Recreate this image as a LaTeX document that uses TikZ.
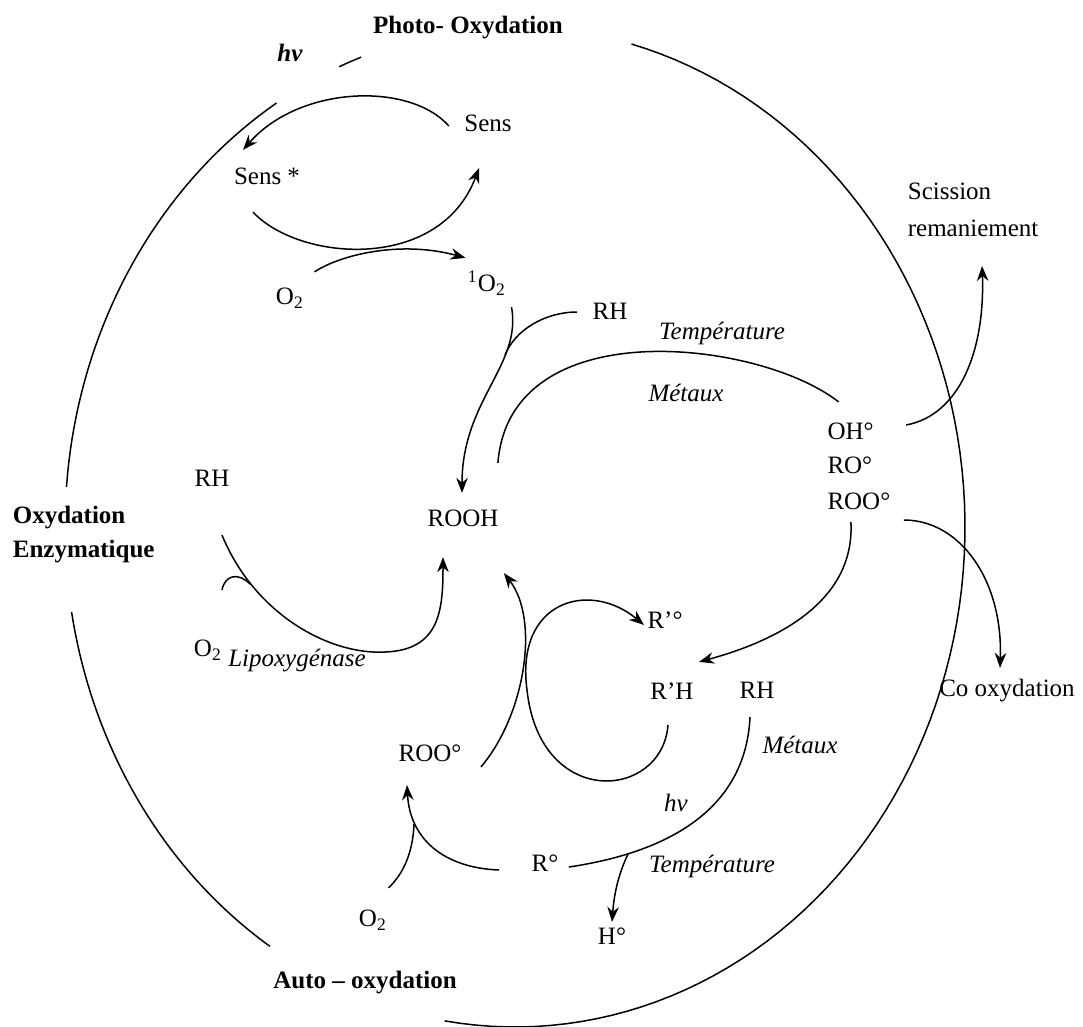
\documentclass[tikz,border=0pt]{standalone}
\usepackage{fontspec}
\setmainfont{Liberation Serif}
\usetikzlibrary{arrows.meta}

\tikzset{
    lbl/.style={inner sep=2pt, text height=7pt, text depth=1.5pt},
    title/.style={font=\bfseries},
    cond/.style={font=\itshape},
    flow/.style={line width=0.6pt},
    reac/.style={flow, -{Stealth[length=6pt,width=4.6pt]}},
}

\begin{document}
\begin{tikzpicture}[x=0.4pt, y=-0.4pt]
    \useasboundingbox (0,0) rectangle (1083,1026);
    %% outer ring, cut where the route names sit
    \draw[flow] plot[domain=-99:75, samples=90] ({515+450*cos(\x)}, {527-500*sin(\x)});
    \draw[flow] plot[domain=110:113, samples=5] ({515+450*cos(\x)}, {527-500*sin(\x)});
    \draw[flow] plot[domain=122:175.4, samples=40] ({515+450*cos(\x)}, {527-500*sin(\x)});
    \draw[flow] plot[domain=189.8:237, samples=40] ({515+450*cos(\x)}, {527-500*sin(\x)});

    %% route names
    \node[title] (photo) at (468,28) {Photo- Oxydation};
    \node[title] (hvtop) at (290,53) {\textit{hv}};
    \node[title, align=left, anchor=west] (enzyme) at (4,535) {Oxydation\\[1.6pt]Enzymatique};
    \node[title] (auto) at (365,983) {Auto – oxydation};

    %% species
    \node[lbl] (sens) at (488,125) {Sens};
    \node[lbl] (sensstar) at (267,178) {Sens *};
    \node[lbl] (otwoA) at (290,298) {O\textsubscript{2}};
    \node[lbl] (singlet) at (487,285) {\textsuperscript{1}O\textsubscript{2}};
    \node[lbl] (rhtop) at (610,313) {RH};
    \node[lbl, anchor=west] (oh) at (822,433) {OH°};
    \node[lbl, anchor=west] (ro) at (822,467) {RO°};
    \node[lbl, anchor=west] (roo) at (822,503) {ROO°};
    \node[align=left, anchor=west] (scission) at (899,210) {Scission\\[3pt]remaniement};
    \node[lbl] (rhleft) at (212,480) {RH};
    \node[lbl] (rooh) at (463,520) {ROOH};
    \node[lbl] (otwoB) at (208,650) {O\textsubscript{2}};
    \node[lbl] (rprime) at (665,622) {R’°};
    \node[lbl] (rprimeh) at (672,693) {R’H};
    \node[lbl] (rhbot) at (757,692) {RH};
    \node[lbl] (roobot) at (430,755) {ROO°};
    \node[lbl] (rdot) at (545,865) {R°};
    \node[lbl] (hdot) at (612,938) {H°};
    \node[lbl] (otwoC) at (373,920) {O\textsubscript{2}};
    \node[lbl] (cooxy) at (1007,690) {Co oxydation};

    %% conditions
    \node[cond] (tempA) at (722,333) {Température};
    \node[cond] (metA) at (686,393) {Métaux};
    \node[cond] (lipox) at (297,660) {Lipoxygénase};
    \node[cond] (metB) at (800,745) {Métaux};
    \node[cond] (hvbot) at (676,803) {hv};
    \node[cond] (tempB) at (712,866) {Température};

    %% photo-oxydation
    \draw[reac] ([shift={(-10,1)}]sens.west) .. controls (410,82) and (300,85) .. ([shift={(-24,-12)}]sensstar.north);
    \draw[reac] ([shift={(-14,18)}]sensstar.south) .. controls (300,262) and (440,272) .. ([shift={(-9,27)}]sens.south);
    \draw[reac] ([shift={(5,-10)}]otwoA.north east) .. controls (340,255) and (400,240) .. ([shift={(3,-11)}]singlet.north west);
    \draw[reac] ([shift={(0,6)}]singlet.south east) .. controls (522,365) and (462,400) .. ([shift={(-1,-11)}]rooh.north);
    \coordinate (joinrh) at (505,355);
    \draw[flow] ([shift={(-10,-1)}]rhtop.west) .. controls (545,312) and (515,330) .. (joinrh);

    %% decomposition of ROOH
    \draw[flow] ([shift={(-12,-15)}]oh.north) .. controls (760,340) and (510,310) .. ([shift={(-6,-41)}]rooh.north east);
    \draw[reac] ([shift={(27,-8)}]oh.east) .. controls (960,415) and (985,350) .. ([shift={(9,20)}]scission.south);
    \draw[reac] ([shift={(8,17)}]roo.east) .. controls (960,520) and (1003,580) .. ([shift={(-7,-6)}]cooxy.north);
    \draw[reac] ([shift={(-8,3)}]roo.south) .. controls (855,600) and (780,640) .. ([shift={(0,-15)}]rprimeh.north east);

    %% enzymatic route
    \draw[reac] ([shift={(10,39)}]rhleft.south) .. controls (255,615) and (330,655) .. (385,652)
        .. controls (440,650) and (443,610) .. ([shift={(-20,21)}]rooh.south);
    \coordinate (joinlip) at (250,584);
    \draw[flow] ([shift={(14,-44)}]otwoB.north) .. controls (225,575) and (238,572) .. (joinlip);

    %% auto-oxydation
    \draw[reac] ([shift={(14,12)}]roobot.east) .. controls (525,715) and (540,620) .. ([shift={(0,37)}]rooh.south east);
    \draw[reac] ([shift={(-4,16)}]rprimeh.south) .. controls (662,800) and (540,810) .. (527,690)
        .. controls (515,600) and (590,580) .. ([shift={(2,3)}]rprime.west);
    \draw[flow] ([shift={(-7,9)}]rhbot.south) .. controls (745,820) and (650,855) .. ([shift={(5,2)}]rdot.east);
    \coordinate (jointemp) at (628,854);
    \draw[reac] (jointemp) .. controls (618,875) and (614,895) .. (hdot.north);
    \draw[reac] ([shift={(-27,5)}]rdot.west) .. controls (445,868) and (410,840) .. ([shift={(-23,14)}]roobot.south);
    \coordinate (joinoxy) at (414,824);
    \draw[flow] ([shift={(-4,-16)}]otwoC.north east) .. controls (405,872) and (413,850) .. (joinoxy);
\end{tikzpicture}
\end{document}
